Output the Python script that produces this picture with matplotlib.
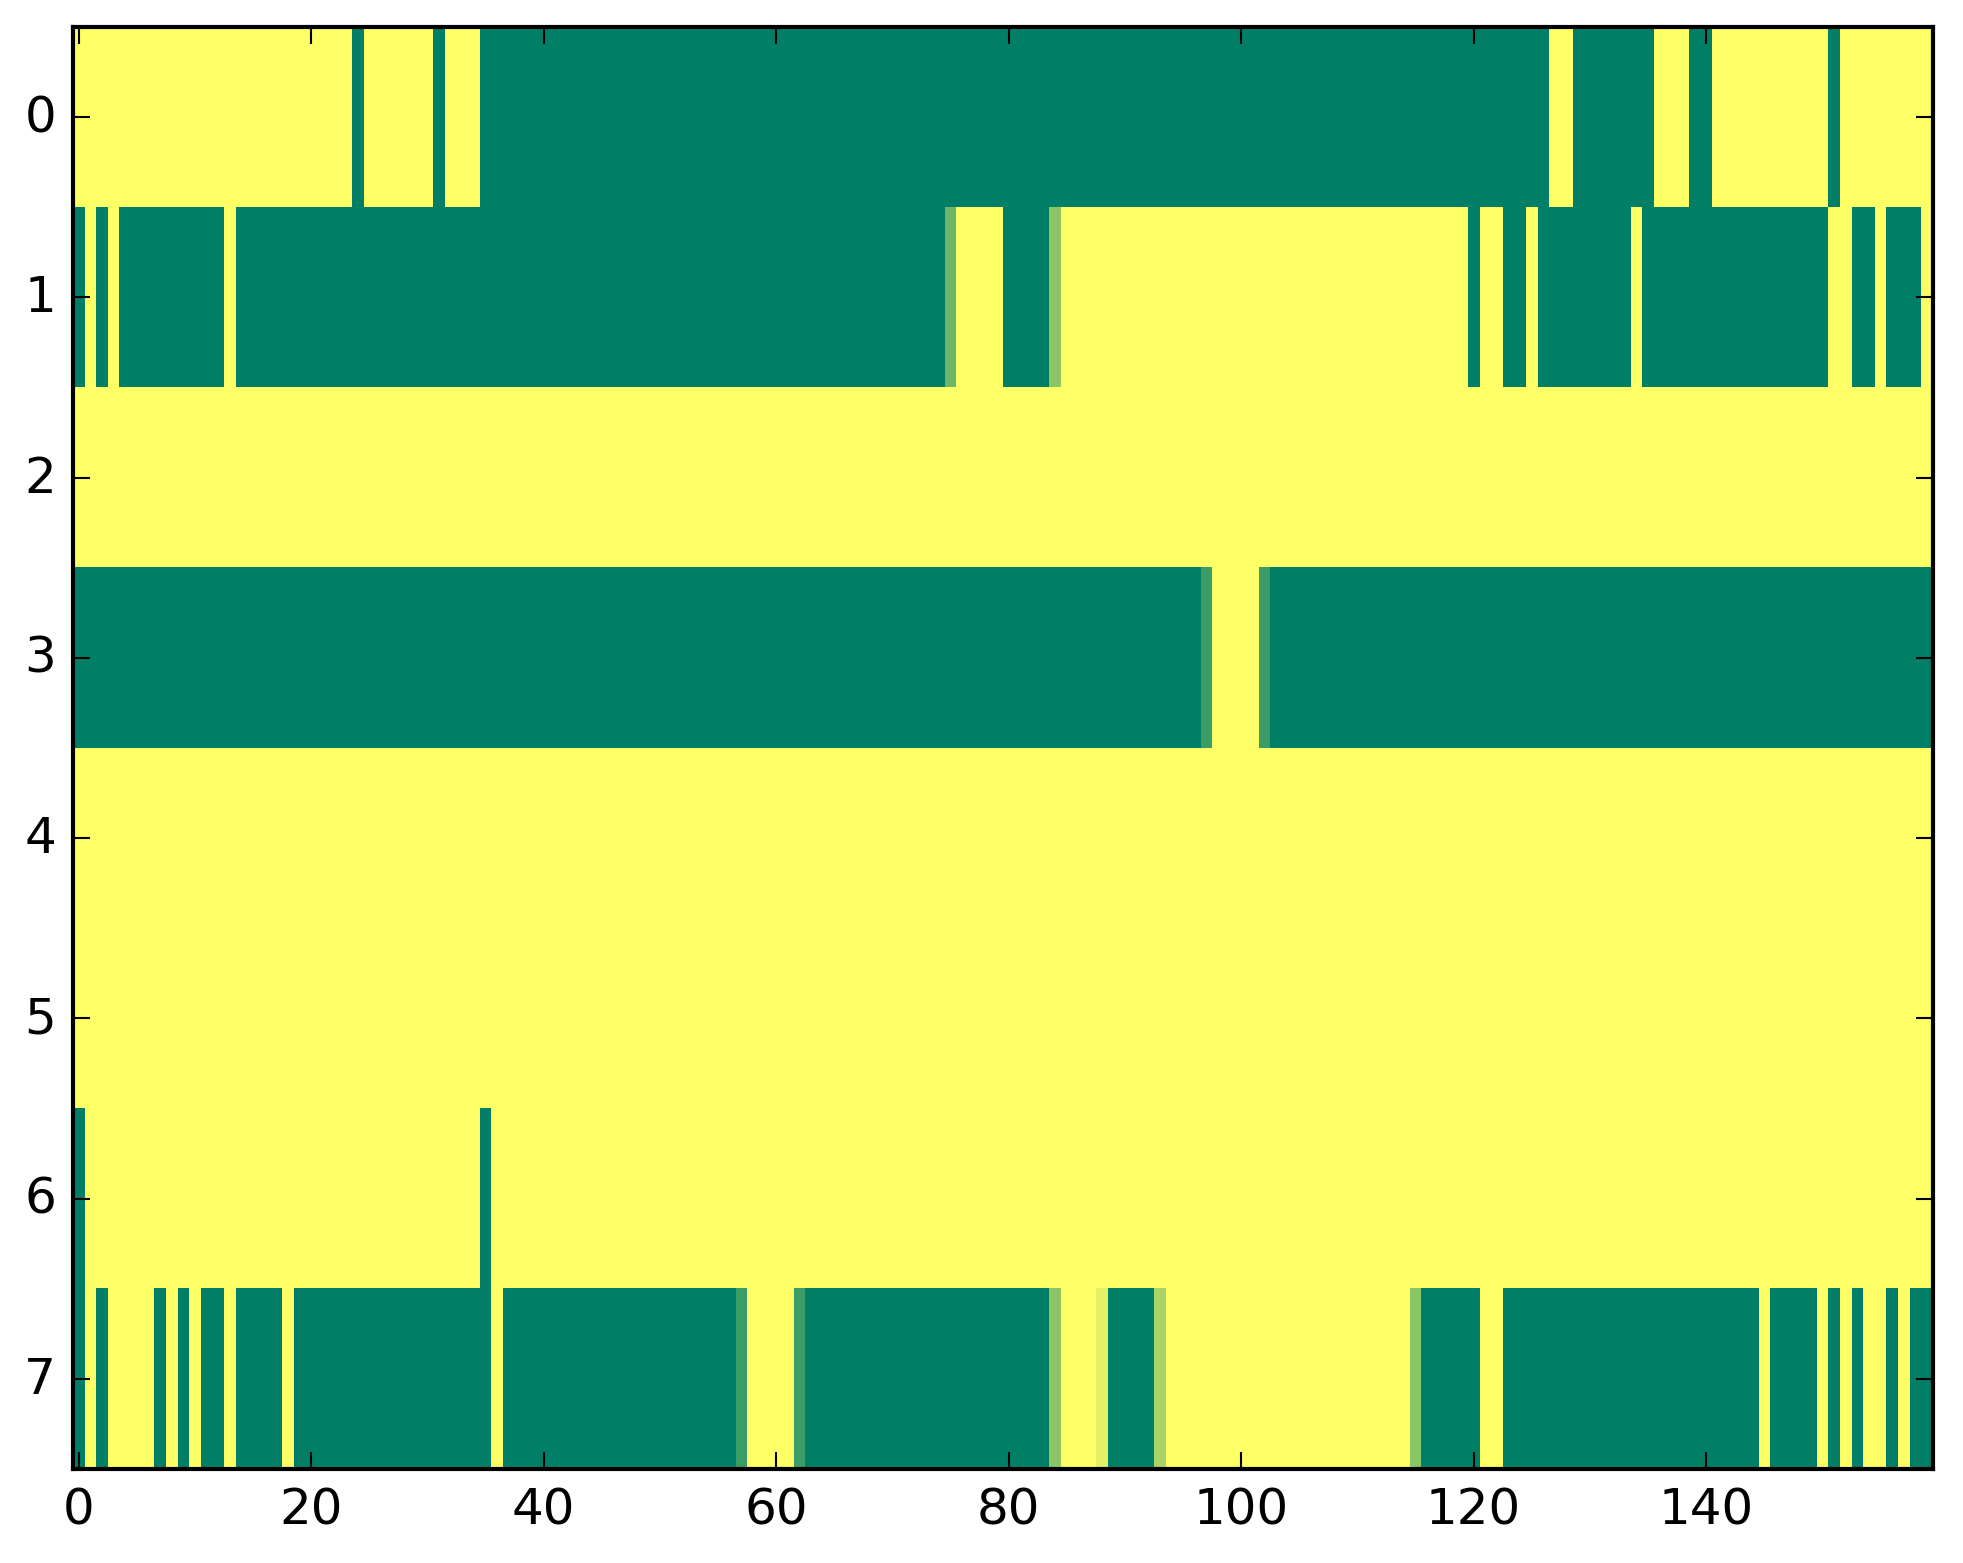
import numpy as np
import matplotlib
matplotlib.use("Agg")
import matplotlib.pyplot as plt

plt.style.use("classic")

# each row as (value, run length) read left to right, 160 columns per row
row0 = [(1, 24), (0, 1), (1, 6), (0, 1), (1, 3), (0, 92), (1, 2), (0, 7),
        (1, 3), (0, 2), (1, 10), (0, 1), (1, 8)]
row1 = [(0, 1), (1, 1), (0, 1), (1, 1), (0, 9), (1, 1), (0, 61), (0.43, 1),
        (1, 4), (0, 4), (0.55, 1), (1, 35), (0, 1), (1, 2), (0, 2), (1, 1),
        (0, 8), (1, 1), (0, 16), (1, 2), (0, 2), (1, 1), (0, 3), (1, 1)]
row2 = [(1, 160)]
row3 = [(0, 97), (0.23, 1), (1, 4), (0.23, 1), (0, 57)]
row4 = [(1, 160)]
row5 = [(1, 160)]
row6 = [(0, 1), (1, 34), (0, 1), (1, 124)]
row7 = [(0, 1), (1, 1), (0, 1), (1, 4), (0, 1), (1, 1), (0, 1), (1, 1),
        (0, 2), (1, 1), (0, 4), (1, 1), (0, 17), (1, 1), (0, 20), (0.23, 1),
        (1, 4), (0.23, 1), (0, 21), (0.55, 1), (1, 3), (0.89, 1), (0, 4),
        (0.67, 1), (1, 21), (0.55, 1), (0, 5), (1, 2), (0, 22), (1, 1),
        (0, 4), (1, 1), (0, 1), (1, 1), (0, 1), (1, 2), (0, 1), (1, 1), (0, 2)]

rows = [row0, row1, row2, row3, row4, row5, row6, row7]


def expand(runs):
    vals = [v for v, n in runs]
    counts = [n for v, n in runs]
    return np.repeat(vals, counts)


data = np.array([expand(r) for r in rows])

fig = plt.figure(figsize=(1963 / 300, 1564 / 300), dpi=300)
ax = fig.add_axes([72.8 / 1963, 1 - 1470 / 1564, 1860 / 1963, 1442 / 1564])
ax.imshow(data, cmap="summer", aspect="auto", interpolation="nearest",
          vmin=0, vmax=1)
ax.set_xticks(np.arange(0, 160, 20))
ax.set_yticks(np.arange(0, 8))
ax.tick_params(labelsize=12)

fig.savefig("out.png", dpi=300)
